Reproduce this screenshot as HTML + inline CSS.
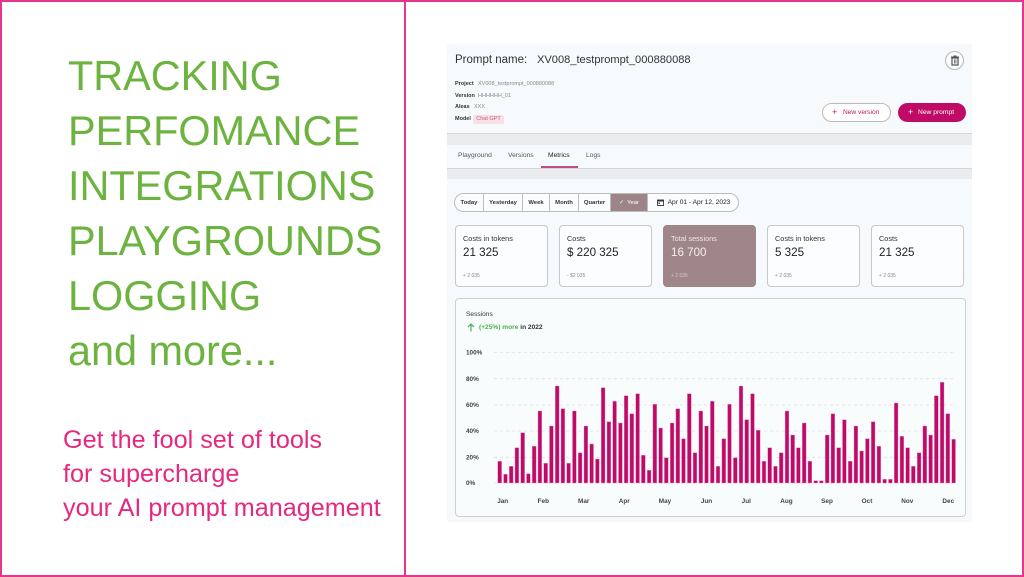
<!DOCTYPE html>
<html><head><meta charset="utf-8">
<style>
*{margin:0;padding:0;box-sizing:border-box}
html,body{width:1024px;height:577px;background:#fff;overflow:hidden}
body{font-family:"Liberation Sans",Arial,sans-serif;position:relative}
.abs{position:absolute;white-space:nowrap}
.frame{position:absolute;left:0;top:0;width:1024px;height:577px;border:2px solid #e8358c}
.div{position:absolute;left:404px;top:0;width:2px;height:577px;background:#e8358c}
.big{position:absolute;left:68px;top:49px;font-size:41.4px;line-height:55px;color:#6cb33f}
.pink{position:absolute;left:63px;top:423px;font-size:25.2px;line-height:34px;color:#e6287e}
.panel{position:absolute;left:447px;top:44px;width:525px;height:478px;background:#f7fafc}
.band{position:absolute;left:447px;width:525px;background:#ebecee}
.meta{font-size:5.5px;color:#333;font-weight:bold}
.metav{font-size:5.5px;color:#888}
.tab{font-size:6.7px;color:#555;top:152px}
.seg{position:absolute;top:0;height:100%;border-left:1px solid #bdbdbd;font-size:5.9px;font-weight:bold;color:#333;display:flex;align-items:center;justify-content:center}
.card{position:absolute;top:225px;width:93px;height:62px;border:1px solid #c9c9c9;border-radius:4px;background:#fbfdfe}
.card .t{position:absolute;left:7px;top:8px;font-size:7.3px;color:#333}
.card .v{position:absolute;left:7px;top:20px;font-size:11.6px;color:#222}
.card .s{position:absolute;left:7px;top:47px;font-size:5px;color:#888}
</style></head><body>
<div class="frame"></div>
<div class="div"></div>

<div class="big">TRACKING<br>PERFOMANCE<br>INTEGRATIONS<br>PLAYGROUNDS<br>LOGGING<br>and more...</div>
<div class="pink">Get the fool set of tools<br>for supercharge<br>your AI prompt management</div>

<div class="panel"></div>
<div class="band" style="top:133px;height:12px;border-top:1px solid #d6d6d8"></div>
<div class="band" style="top:168px;height:11px;border-top:1px solid #d6d6d8"></div>

<div class="abs" style="left:455px;top:54px;font-size:11.5px;color:#333">Prompt name:</div>
<div class="abs" style="left:537px;top:54px;font-size:11.1px;color:#333">XV008_testprompt_000880088</div>

<div class="abs meta" style="left:455px;top:81px">Project</div>
<div class="abs metav" style="left:478px;top:81px">XV008_testprompt_000880088</div>
<div class="abs meta" style="left:455px;top:93px">Version</div>
<div class="abs metav" style="left:478px;top:93px">HHHHHH_01</div>
<div class="abs meta" style="left:455px;top:104px">Aleas</div>
<div class="abs metav" style="left:474px;top:104px">XXX</div>
<div class="abs meta" style="left:455px;top:116px">Model</div>
<div class="abs" style="left:473px;top:115px;width:31px;height:9px;background:#f9dfe6;border-radius:2px;font-size:5.5px;color:#c06080;line-height:9px;text-align:center">Chat GPT</div>

<div class="abs" style="left:945px;top:51px;width:19px;height:19px;border:1px solid #b8b8b8;border-radius:50%;background:#f9fbfc"></div>
<svg class="abs" style="left:950px;top:55px" width="10" height="11" viewBox="0 0 10 11">
<rect x="1" y="1.5" width="8" height="1.2" fill="#555"/><rect x="3.5" y="0.5" width="3" height="1.2" fill="#555"/>
<rect x="2" y="3" width="6" height="7" fill="none" stroke="#555" stroke-width="1.2"/>
<rect x="4" y="4.5" width="0.8" height="4" fill="#555"/><rect x="5.5" y="4.5" width="0.8" height="4" fill="#555"/></svg>

<div class="abs" style="left:822px;top:103px;width:69px;height:19px;border:1px solid #bbb;border-radius:10px;background:#fff"></div>
<div class="abs" style="left:832px;top:106px;font-size:9px;color:#c2185b;line-height:12px">+</div>
<div class="abs" style="left:843px;top:109px;font-size:6.6px;color:#c2185b">New version</div>
<div class="abs" style="left:898px;top:103px;width:68px;height:19px;border-radius:10px;background:#c00a67"></div>
<div class="abs" style="left:908px;top:106px;font-size:9px;color:#fff;line-height:12px">+</div>
<div class="abs" style="left:918px;top:109px;font-size:6.7px;color:#fff">New prompt</div>

<div class="abs tab" style="left:458px">Playground</div>
<div class="abs tab" style="left:508px">Versions</div>
<div class="abs tab" style="left:548px;color:#222">Metrics</div>
<div class="abs tab" style="left:586px">Logs</div>
<div class="abs" style="left:541px;top:166px;width:37px;height:2px;background:#c04c88"></div>

<div class="abs" style="left:454px;top:193px;width:285px;height:19px;border:1px solid #bdbdbd;border-radius:10px;background:#fafcfd;overflow:hidden">
 <div class="seg" style="left:0;width:28px;border-left:none">Today</div>
 <div class="seg" style="left:28px;width:39px">Yesterday</div>
 <div class="seg" style="left:67px;width:27px">Week</div>
 <div class="seg" style="left:94px;width:29px">Month</div>
 <div class="seg" style="left:123px;width:32px">Quarter</div>
 <div class="seg" style="left:155px;width:37px;background:#9d8488;color:#fff;font-weight:normal">✓&nbsp; Year</div>
 <div class="seg" style="left:192px;width:92px;font-weight:normal;color:#222;font-size:6.6px">
  <svg width="7" height="7" viewBox="0 0 7 7" style="margin-right:4px"><rect x="0.5" y="1" width="6" height="5.5" fill="none" stroke="#333" stroke-width="0.9"/><rect x="0.5" y="1" width="6" height="1.5" fill="#333"/><rect x="1.5" y="3.5" width="1.5" height="1.3" fill="#333"/></svg>Apr 01 - Apr 12, 2023</div>
</div>

<div class="card" style="left:455px"><div class="t">Costs in tokens</div><div class="v">21 325</div><div class="s">+ 2 035</div></div>
<div class="card" style="left:559px"><div class="t">Costs</div><div class="v">$ 220 325</div><div class="s">- $2 035</div></div>
<div class="card" style="left:663px;background:#9e868a;border-color:#9e868a"><div class="t" style="color:#f1e6e8">Total sessions</div><div class="v" style="color:#f6eef0">16 700</div><div class="s" style="color:#d8c8cb">+ 2 035</div></div>
<div class="card" style="left:767px"><div class="t">Costs in tokens</div><div class="v">5 325</div><div class="s">+ 2 035</div></div>
<div class="card" style="left:871px"><div class="t">Costs</div><div class="v">21 325</div><div class="s">+ 2 035</div></div>

<div class="abs" style="left:455px;top:298px;width:511px;height:219px;border:1px solid #cfcfcf;border-radius:4px;background:#f9fcfd"></div>
<div class="abs" style="left:466px;top:311px;font-size:6.6px;color:#333">Sessions</div>
<svg class="abs" style="left:467px;top:323px" width="8" height="9" viewBox="0 0 8 9"><path d="M4 8.5V1M1 4l3-3 3 3" fill="none" stroke="#4caf50" stroke-width="1.2"/></svg>
<div class="abs" style="left:479px;top:324px;font-size:6.6px;color:#4caf50;font-weight:bold">(+25%) more <span style="color:#333">in 2022</span></div>

<svg class="abs" style="left:0;top:0" width="1024" height="577">
<g font-family="Liberation Sans, Arial, sans-serif" font-size="6.4" fill="#444" font-weight="bold">
<text x="466" y="354.5">100%</text><text x="466" y="381">80%</text><text x="466" y="407.2">60%</text><text x="466" y="433.2">40%</text><text x="466" y="459.5">20%</text><text x="466" y="485.2">0%</text>
</g>
<g stroke="#e3dde0" stroke-width="0.8" stroke-dasharray="3,3">
<line x1="494" y1="352.3" x2="955" y2="352.3"/><line x1="494" y1="378.7" x2="955" y2="378.7"/><line x1="494" y1="405" x2="955" y2="405"/><line x1="494" y1="431" x2="955" y2="431"/><line x1="494" y1="457.3" x2="955" y2="457.3"/><line x1="494" y1="483" x2="955" y2="483"/>
</g>
<g fill="#bf0a6a" stroke="#e58ab5" stroke-width="0.4">
<rect x="497.8" y="461.3" width="3.8" height="21.7"/>
<rect x="503.6" y="474.3" width="3.8" height="8.7"/>
<rect x="509.3" y="466.3" width="3.8" height="16.7"/>
<rect x="515.0" y="447.7" width="3.8" height="35.3"/>
<rect x="520.8" y="432.7" width="3.8" height="50.3"/>
<rect x="526.5" y="473.7" width="3.8" height="9.3"/>
<rect x="532.3" y="446.3" width="3.8" height="36.7"/>
<rect x="538.0" y="411" width="3.8" height="72"/>
<rect x="543.8" y="463.3" width="3.8" height="19.7"/>
<rect x="549.5" y="426" width="3.8" height="57"/>
<rect x="555.3" y="386" width="3.8" height="97"/>
<rect x="561.0" y="408.7" width="3.8" height="74.3"/>
<rect x="566.7" y="463.3" width="3.8" height="19.7"/>
<rect x="572.5" y="411" width="3.8" height="72"/>
<rect x="578.2" y="452.7" width="3.8" height="30.3"/>
<rect x="584.0" y="426" width="3.8" height="57"/>
<rect x="589.7" y="444" width="3.8" height="39"/>
<rect x="595.5" y="459" width="3.8" height="24"/>
<rect x="601.2" y="387.7" width="3.8" height="95.3"/>
<rect x="607.0" y="421.7" width="3.8" height="61.3"/>
<rect x="612.7" y="401.3" width="3.8" height="81.7"/>
<rect x="618.5" y="423" width="3.8" height="60"/>
<rect x="624.2" y="395.7" width="3.8" height="87.3"/>
<rect x="629.9" y="413.7" width="3.8" height="69.3"/>
<rect x="635.7" y="393.7" width="3.8" height="89.3"/>
<rect x="641.4" y="455.3" width="3.8" height="27.7"/>
<rect x="647.2" y="470.3" width="3.8" height="12.7"/>
<rect x="652.9" y="404.3" width="3.8" height="78.7"/>
<rect x="658.7" y="428" width="3.8" height="55"/>
<rect x="664.4" y="457.7" width="3.8" height="25.3"/>
<rect x="670.2" y="423" width="3.8" height="60"/>
<rect x="675.9" y="408.7" width="3.8" height="74.3"/>
<rect x="681.6" y="438.7" width="3.8" height="44.3"/>
<rect x="687.4" y="393.7" width="3.8" height="89.3"/>
<rect x="693.1" y="452.7" width="3.8" height="30.3"/>
<rect x="698.9" y="411" width="3.8" height="72"/>
<rect x="704.6" y="426" width="3.8" height="57"/>
<rect x="710.4" y="401.3" width="3.8" height="81.7"/>
<rect x="716.1" y="466.3" width="3.8" height="16.7"/>
<rect x="721.9" y="438.7" width="3.8" height="44.3"/>
<rect x="727.6" y="404.3" width="3.8" height="78.7"/>
<rect x="733.4" y="457.7" width="3.8" height="25.3"/>
<rect x="739.1" y="386" width="3.8" height="97"/>
<rect x="744.8" y="419.7" width="3.8" height="63.3"/>
<rect x="750.6" y="393.7" width="3.8" height="89.3"/>
<rect x="756.3" y="430.3" width="3.8" height="52.7"/>
<rect x="762.1" y="461.3" width="3.8" height="21.7"/>
<rect x="767.8" y="447.7" width="3.8" height="35.3"/>
<rect x="773.6" y="466.3" width="3.8" height="16.7"/>
<rect x="779.3" y="452.7" width="3.8" height="30.3"/>
<rect x="785.1" y="411" width="3.8" height="72"/>
<rect x="790.8" y="435" width="3.8" height="48"/>
<rect x="796.5" y="447.7" width="3.8" height="35.3"/>
<rect x="802.3" y="423" width="3.8" height="60"/>
<rect x="808.0" y="461.3" width="3.8" height="21.7"/>
<rect x="813.8" y="480.7" width="3.8" height="2.3"/>
<rect x="819.5" y="480.7" width="3.8" height="2.3"/>
<rect x="825.3" y="435" width="3.8" height="48"/>
<rect x="831.0" y="413.7" width="3.8" height="69.3"/>
<rect x="836.8" y="447.7" width="3.8" height="35.3"/>
<rect x="842.5" y="419.7" width="3.8" height="63.3"/>
<rect x="848.3" y="461.3" width="3.8" height="21.7"/>
<rect x="854.0" y="426" width="3.8" height="57"/>
<rect x="859.7" y="451" width="3.8" height="32"/>
<rect x="865.5" y="438.7" width="3.8" height="44.3"/>
<rect x="871.2" y="421.7" width="3.8" height="61.3"/>
<rect x="877.0" y="446.3" width="3.8" height="36.7"/>
<rect x="882.7" y="479.3" width="3.8" height="3.7"/>
<rect x="888.5" y="479.3" width="3.8" height="3.7"/>
<rect x="894.2" y="403" width="3.8" height="80"/>
<rect x="900.0" y="436.3" width="3.8" height="46.7"/>
<rect x="905.7" y="447.7" width="3.8" height="35.3"/>
<rect x="911.4" y="466.3" width="3.8" height="16.7"/>
<rect x="917.2" y="452.7" width="3.8" height="30.3"/>
<rect x="922.9" y="426" width="3.8" height="57"/>
<rect x="928.7" y="435" width="3.8" height="48"/>
<rect x="934.4" y="395.7" width="3.8" height="87.3"/>
<rect x="940.2" y="382.3" width="3.8" height="100.7"/>
<rect x="945.9" y="413.7" width="3.8" height="69.3"/>
<rect x="951.7" y="439.3" width="3.8" height="43.7"/>
</g>
<g font-family="Liberation Sans, Arial, sans-serif" font-size="6.4" fill="#444" font-weight="bold" text-anchor="middle">
<text x="502.7" y="503">Jan</text><text x="543.3" y="503">Feb</text><text x="583.7" y="503">Mar</text><text x="624.3" y="503">Apr</text><text x="665" y="503">May</text><text x="706.5" y="503">Jun</text><text x="746.3" y="503">Jul</text><text x="786.5" y="503">Aug</text><text x="827" y="503">Sep</text><text x="867" y="503">Oct</text><text x="907.3" y="503">Nov</text><text x="948.3" y="503">Dec</text>
</g>
</svg>
</body></html>
